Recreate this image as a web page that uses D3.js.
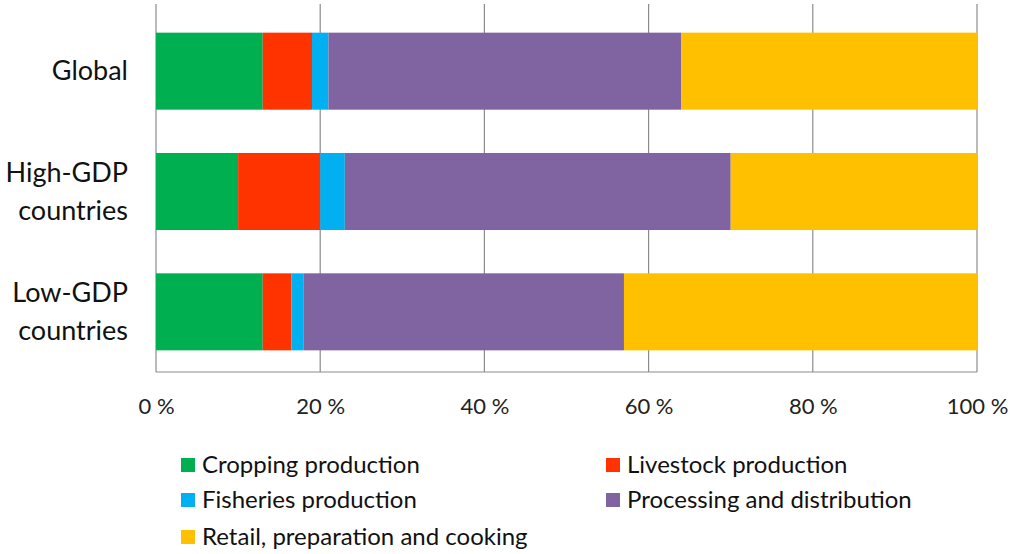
<!DOCTYPE html>
<html>
<head>
<meta charset="utf-8">
<script src="https://cdn.jsdelivr.net/npm/d3@7"></script>
<style>
  html, body { margin: 0; padding: 0; background: #fff; }
  svg { display: block; font-family: Lato, "Open Sans", sans-serif; }
</style>
</head>
<body>
<svg id="chart" width="1011" height="554"></svg>
<script>
// Share of food-system emissions by stage (%)
const categories = [["Global"], ["High-GDP", "countries"], ["Low-GDP", "countries"]];
const seriesNames = ["Cropping production", "Livestock production", "Fisheries production",
                     "Processing and distribution", "Retail, preparation and cooking"];
const cropping   = [13, 10, 13];
const livestock  = [6, 10, 3.5];
const fisheries  = [2, 3, 1.5];
const processing = [43, 47, 39];
const retail     = [36, 30, 43];
const tickValues = [0, 20, 40, 60, 80, 100];
const colors = ["#00B050", "#FF3300", "#00B0F0", "#8064A2", "#FFC000"];

const svg = d3.select("#chart");
const margin = { left: 156, right: 34, top: 11, bottom: 182 };
const W = 1011, H = 554;
const plotBottom = H - margin.bottom;

const rows = categories.map((c, i) => ({
  key: c.join(" "), lines: c,
  [seriesNames[0]]: cropping[i], [seriesNames[1]]: livestock[i],
  [seriesNames[2]]: fisheries[i], [seriesNames[3]]: processing[i],
  [seriesNames[4]]: retail[i]
}));

const x = d3.scaleLinear().domain([0, 100]).range([margin.left, W - margin.right]);
const y = d3.scaleBand().domain(rows.map(d => d.key))
  .range([margin.top, plotBottom]).paddingInner(0.36).paddingOuter(0.18);
const color = d3.scaleOrdinal().domain(seriesNames).range(colors);

// gridlines and baseline
svg.append("g").selectAll("line").data(tickValues).join("line")
  .attr("x1", d => x(d)).attr("x2", d => x(d))
  .attr("y1", 4).attr("y2", plotBottom)
  .attr("stroke", "#8c8c8c").attr("stroke-width", 1.2);
svg.append("line").attr("x1", x(0)).attr("x2", x(100))
  .attr("y1", plotBottom).attr("y2", plotBottom)
  .attr("stroke", "#8c8c8c").attr("stroke-width", 1.2);

const stack = d3.stack().keys(seriesNames)(rows);
svg.append("g").selectAll("g").data(stack).join("g")
  .attr("fill", s => color(s.key))
  .selectAll("rect").data(s => s).join("rect")
  .attr("x", d => x(d[0])).attr("width", d => x(d[1]) - x(d[0]))
  .attr("y", d => y(d.data.key)).attr("height", y.bandwidth());

// x tick labels
const xAxis = d3.axisBottom(x).tickValues(tickValues).tickSize(0).tickFormat(d => d + " %");
const gx = svg.append("g").attr("transform", `translate(0,${plotBottom + 23})`).call(xAxis);
gx.select(".domain").remove();
gx.selectAll("text").attr("font-size", 22).attr("fill", "#222").attr("font-family", "Lato, sans-serif");

// category labels
const catG = svg.append("g");
rows.forEach(r => {
  const cy = y(r.key) + y.bandwidth() / 2;
  const n = r.lines.length;
  const t = catG.append("text").attr("text-anchor", "end").attr("x", 128)
    .attr("font-size", 27).attr("fill", "#111");
  r.lines.forEach((ln, i) => {
    t.append("tspan").attr("x", 128)
      .attr("y", cy + (i - (n - 1) / 2) * 38 + 9).text(ln);
  });
});

// legend
const legendPos = [[181, 465], [606, 465], [181, 500], [606, 500], [181, 537]];
const lg = svg.append("g").selectAll("g").data(seriesNames).join("g")
  .attr("transform", (d, i) => `translate(${legendPos[i][0]},${legendPos[i][1]})`);
lg.append("rect").attr("x", 0).attr("y", -7).attr("width", 14).attr("height", 14)
  .attr("fill", d => color(d));
lg.append("text").attr("x", 21).attr("y", 8).attr("font-size", 24).attr("fill", "#111")
  .text(d => d);
</script>
</body>
</html>
